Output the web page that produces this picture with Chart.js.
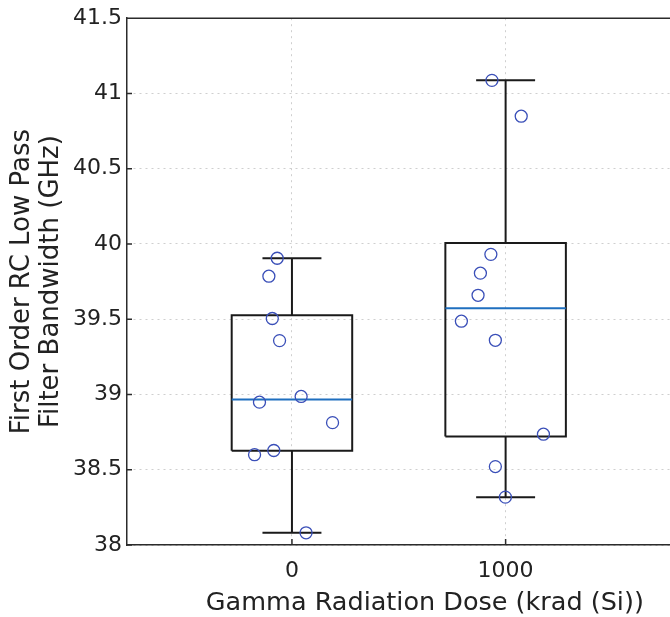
<!DOCTYPE html>
<html>
<head>
<meta charset="utf-8">
<script src="https://cdn.jsdelivr.net/npm/chart.js@4"></script>
<style>
  body { margin: 0; background: #fff; }
  #wrap { width: 670px; height: 617px; overflow: hidden; }
</style>
</head>
<body>
<div id="wrap"><canvas id="myChart" width="730" height="617"></canvas></div>
<script>
// doses (krad (Si)) and box statistics
const doses = [0, 1000];
const medians = [38.967, 39.573];
const lowerQuartiles = [38.626, 38.721];
const upperQuartiles = [39.527, 40.006];
const lowerWhiskers = [38.081, 38.318];
const upperWhiskers = [39.905, 41.087];

// individual measurements with their horizontal jitter
const dose0Values = [39.905, 39.786, 39.505, 39.358, 38.987, 38.949, 38.813, 38.628, 38.600, 38.081];
const dose0Jitter = [-69, -108, -92, -58, 43, -152, 190, -85, -175, 66];
const dose1000Values = [41.087, 40.849, 39.931, 39.806, 39.659, 39.487, 39.360, 38.736, 38.521, 38.318];
const dose1000Jitter = [-64, 73, -69, -118, -129, -207, -48, 177, -48, -1];

const yTicks = [38, 38.5, 39, 39.5, 40, 40.5, 41, 41.5];

const boxHalf = 282;
const capHalf = 138;
const lineColor = '#1a1a1a';
const fontFamily = 'DejaVu Sans, Verdana, sans-serif';

const points = [];
dose0Values.forEach((v, i) => points.push({x: doses[0] + dose0Jitter[i], y: v}));
dose1000Values.forEach((v, i) => points.push({x: doses[1] + dose1000Jitter[i], y: v}));

const datasets = [{
  type: 'scatter',
  label: 'measurements',
  data: points,
  pointStyle: 'circle',
  pointRadius: 6,
  pointBorderWidth: 1.3,
  pointBorderColor: '#3a4fb8',
  pointBackgroundColor: 'rgba(0,0,0,0)',
  order: 0
}];

doses.forEach((d, i) => {
  const lo = lowerQuartiles[i], hi = upperQuartiles[i];
  // box outline
  datasets.push({
    type: 'line', label: 'box' + d,
    data: [
      {x: d - boxHalf, y: lo}, {x: d - boxHalf, y: hi}, {x: d + boxHalf, y: hi},
      {x: d + boxHalf, y: lo}, {x: d - boxHalf, y: lo}
    ],
    borderColor: lineColor, borderWidth: 2, pointRadius: 0, fill: false, order: 2
  });
  // whiskers + caps
  datasets.push({
    type: 'line', label: 'whisker' + d,
    data: [
      {x: d, y: hi}, {x: d, y: upperWhiskers[i]}, {x: null, y: null},
      {x: d - capHalf, y: upperWhiskers[i]}, {x: d + capHalf, y: upperWhiskers[i]}, {x: null, y: null},
      {x: d, y: lo}, {x: d, y: lowerWhiskers[i]}, {x: null, y: null},
      {x: d - capHalf, y: lowerWhiskers[i]}, {x: d + capHalf, y: lowerWhiskers[i]}
    ],
    spanGaps: false,
    borderColor: lineColor, borderWidth: 2, pointRadius: 0, fill: false, order: 2
  });
  // median
  datasets.push({
    type: 'line', label: 'median' + d,
    data: [{x: d - boxHalf, y: medians[i]}, {x: d + boxHalf, y: medians[i]}],
    borderColor: '#1f6fbf', borderWidth: 2, pointRadius: 0, fill: false, order: 1
  });
});

// top frame line and inward tick marks
const framePlugin = {
  id: 'frame',
  afterDraw(chart) {
    const {ctx, chartArea, scales} = chart;
    ctx.save();
    ctx.strokeStyle = '#2b2b2b';
    ctx.lineWidth = 1.5;
    ctx.beginPath();
    ctx.moveTo(chartArea.left, chartArea.top);
    ctx.lineTo(chartArea.right + 10, chartArea.top);
    scales.y.ticks.forEach(t => {
      const py = scales.y.getPixelForValue(t.value);
      ctx.moveTo(chartArea.left, py);
      ctx.lineTo(chartArea.left + 5, py);
    });
    scales.x.ticks.forEach(t => {
      const px = scales.x.getPixelForValue(t.value);
      ctx.moveTo(px, chartArea.bottom);
      ctx.lineTo(px, chartArea.bottom - 6);
    });
    ctx.stroke();
    ctx.restore();
  }
};

new Chart('myChart', {
  data: {datasets: datasets},
  plugins: [framePlugin],
  options: {
    responsive: false,
    animation: false,
    layout: {padding: {top: 14, right: 5, bottom: 0, left: 0}},
    plugins: {legend: {display: false}, tooltip: {enabled: false}},
    scales: {
      x: {
        type: 'linear',
        min: -772,
        max: 2016,
        afterBuildTicks: scale => { scale.ticks = doses.map(v => ({value: v})); },
        afterFit: scale => { scale.height = 72; },
        grid: {color: '#cfcfcf', lineWidth: 1, drawTicks: false},
        border: {display: true, color: '#2b2b2b', width: 1.5, dash: [2, 4]},
        ticks: {
          color: '#222',
          font: {family: fontFamily, size: 22},
          padding: 13,
          callback: v => String(v)
        },
        title: {
          display: true,
          text: 'Gamma Radiation Dose (krad (Si))',
          color: '#222',
          font: {family: fontFamily, size: 25.5, lineHeight: 1.1},
          padding: {top: 0, bottom: 0}
        }
      },
      y: {
        type: 'linear',
        min: 38,
        max: 41.5,
        afterBuildTicks: scale => { scale.ticks = yTicks.map(v => ({value: v})); },
        afterFit: scale => { scale.width = 127; },
        grid: {color: '#cfcfcf', lineWidth: 1, drawTicks: false},
        border: {display: true, color: '#2b2b2b', width: 1.5, dash: [2, 4]},
        ticks: {
          color: '#222',
          font: {family: fontFamily, size: 22},
          padding: 5,
          callback: v => String(v)
        },
        title: {
          display: true,
          text: ['First Order RC Low Pass', 'Filter Bandwidth (GHz)'],
          color: '#222',
          font: {family: fontFamily, size: 26, lineHeight: 1.12},
          padding: {top: 8, bottom: 0}
        }
      }
    }
  }
});
</script>
</body>
</html>
